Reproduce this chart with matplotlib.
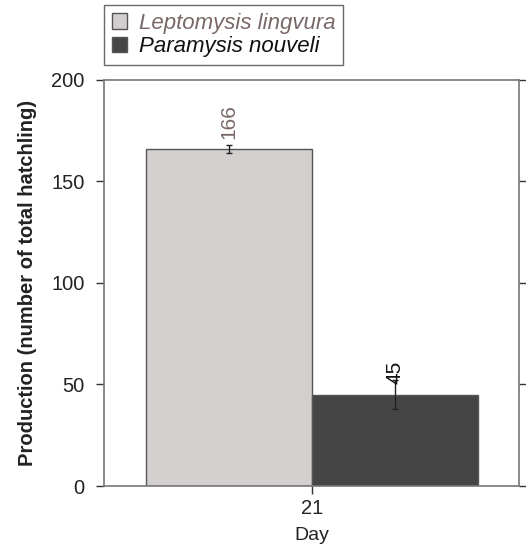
#!/usr/bin/env python3

import numpy as np
import matplotlib
matplotlib.use("Agg")
import matplotlib.pyplot as plt

plt.rcParams["font.family"] = ["Liberation Sans", "DejaVu Sans"]

days = ["21"]
species = ["Leptomysis lingvura", "Paramysis nouveli"]
production = [166, 45]
errors = [2, 7]
bar_colors = ["#d3cfce", "#454545"]
label_colors = ["#7a6868", "#111111"]

#==============================================================================

fig = plt.figure(figsize=(5.26, 5.47), dpi=100)
ax = fig.add_axes([0.198, 0.1115, 0.789, 0.7425])

x = np.arange(len(days))
w = 1.0
offsets = [-w / 2, w / 2]

for i in range(len(species)):
    ax.bar(x + offsets[i], [production[i]], w, yerr=[errors[i]],
           color=bar_colors[i], edgecolor="#555555", linewidth=1.0,
           label=species[i], capsize=2.5,
           error_kw=dict(elinewidth=1.0, ecolor="#222222", capthick=1.0))
    ax.text(x[0] + offsets[i], production[i] + 5, str(production[i]),
            rotation=90, ha="center", va="bottom", fontsize=15,
            color=label_colors[i])

ax.set_xlim(-1.253, 1.247)
ax.set_ylim(0, 200)
ax.set_yticks([0, 50, 100, 150, 200])
ax.set_xticks(x)
ax.set_xticklabels(days)
ax.tick_params(axis="both", labelsize=14.5, colors="#333333", direction="out",
               length=6, width=1.0, labelcolor="#222222")
ax.tick_params(axis="y", right=True, pad=8)
for s in ax.spines.values():
    s.set_color("#777777")
    s.set_linewidth(1.2)

ax.set_xlabel("Day", fontsize=14, color="#222222", labelpad=6)
ax.set_ylabel("Production (number of total hatchling)", fontsize=14.5,
              fontweight="bold", color="#222222", labelpad=10)

leg = ax.legend(loc="lower left", bbox_to_anchor=(0.0, 1.037),
                fontsize=16, frameon=True, fancybox=False, handlelength=0.7,
                handleheight=0.7, handletextpad=0.5, borderpad=0.35,
                labelspacing=0.1, borderaxespad=0.0)
leg.get_frame().set_edgecolor("#444444")
leg.get_frame().set_linewidth(1.0)
for t, c in zip(leg.get_texts(), label_colors):
    t.set_style("italic")
    t.set_color(c)

plt.savefig("out.png", dpi=100)
